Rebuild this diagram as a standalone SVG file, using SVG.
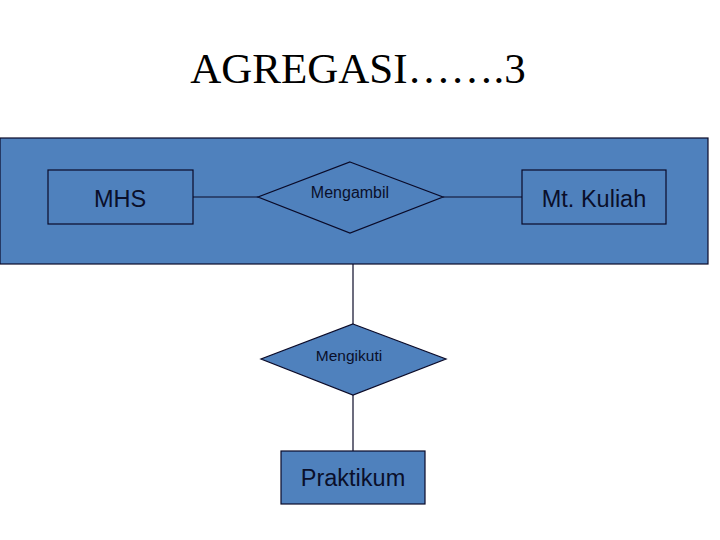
<svg xmlns="http://www.w3.org/2000/svg" width="720" height="540" viewBox="0 0 720 540">
<style>
.shape{fill:#4f81bd;stroke:#0a0a28;stroke-width:1.2}
.line{stroke:#0a0a28;stroke-width:1.2;fill:none}
.lbl{font-family:"Liberation Sans",Arial,sans-serif;fill:#0a0f2a;text-anchor:middle}
.big{font-size:23.5px}
</style>
<rect width="720" height="540" fill="#ffffff"/>
<text x="358" y="83" font-family="'Liberation Serif','Times New Roman',serif" font-size="43" text-anchor="middle" fill="#000">AGREGASI…….3</text>
<g id="aggregate">
<rect class="shape" x="0" y="138" width="708" height="126"/>
</g>
<g id="connectors">
<line class="line" x1="193" y1="197" x2="258" y2="197"/>
<line class="line" x1="443" y1="197" x2="522" y2="197"/>
<line class="line" x1="353" y1="264" x2="353" y2="324"/>
<line class="line" x1="353" y1="395" x2="353" y2="451"/>
</g>
<g id="mhs">
<rect class="shape" x="48" y="170" width="145" height="54"/>
<text class="lbl big" x="120" y="207">MHS</text>
</g>
<g id="mengambil">
<polygon class="shape" points="350,162 443,197 350,233 258,197"/>
<text class="lbl" font-size="16" x="350" y="198">Mengambil</text>
</g>
<g id="mtkuliah">
<rect class="shape" x="522" y="170" width="144" height="54"/>
<text class="lbl big" x="594" y="207">Mt. Kuliah</text>
</g>
<g id="mengikuti">
<polygon class="shape" points="353,324 446,359 353,395 261,359"/>
<text class="lbl" font-size="15.5" x="349" y="361">Mengikuti</text>
</g>
<g id="praktikum">
<rect class="shape" x="281" y="451" width="144" height="53"/>
<text class="lbl big" x="353" y="486">Praktikum</text>
</g>
</svg>
